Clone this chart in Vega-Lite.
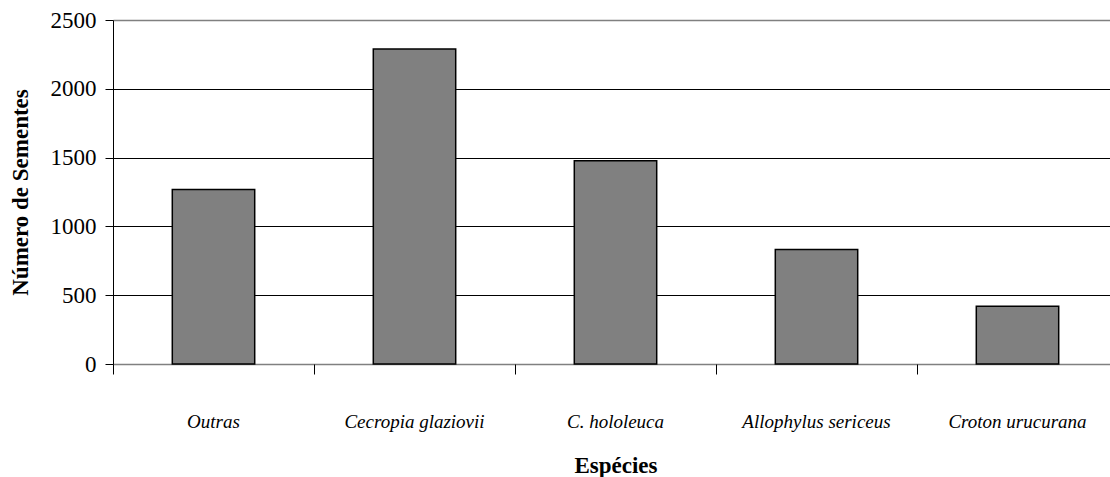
{
  "$schema": "https://vega.github.io/schema/vega-lite/v6.json",
  "width": 1005,
  "height": 344,
  "autosize": {"type": "none"},
  "padding": {"left": 113, "top": 20, "right": 0, "bottom": 113},
  "background": "white",
  "config": {"view": {"stroke": null}, "font": "Liberation Serif"},
  "data": {"values": [
    {"especie": "Outras", "sementes": 1268},
    {"especie": "Cecropia glaziovii", "sementes": 2290},
    {"especie": "C. hololeuca", "sementes": 1477},
    {"especie": "Allophylus sericeus", "sementes": 833},
    {"especie": "Croton urucurana", "sementes": 420}
  ]},
  "resolve": {"axis": {"x": "independent"}},
  "layer": [
    {
      "mark": {"type": "bar", "width": {"band": 0.41}, "fill": "#808080", "stroke": "black", "strokeWidth": 1.5},
      "encoding": {
        "x": {"field": "especie", "type": "nominal", "sort": null,
          "scale": {"paddingInner": 0, "paddingOuter": 0},
          "axis": {"orient": "bottom", "title": "Espécies", "titleFont": "Liberation Serif", "titleFontSize": 23, "titleFontWeight": "bold", "titleColor": "black", "titlePadding": 23,
            "labelFont": "Liberation Serif", "labelFontStyle": "italic", "labelFontSize": 19, "labelColor": "black", "labelPadding": 48, "labelAngle": 0,
            "ticks": false, "domainColor": "#808080", "domainWidth": 1.5, "grid": false}},
        "y": {"field": "sementes", "type": "quantitative",
          "scale": {"domain": [0, 2500], "nice": false},
          "axis": {"values": [0, 500, 1000, 1500, 2000, 2500], "format": "d", "title": "Número de Sementes", "titleFont": "Liberation Serif", "titleFontSize": 23, "titleFontWeight": "bold", "titleColor": "black", "titlePadding": 18,
            "labelFont": "Liberation Serif", "labelFontSize": 23, "labelColor": "black", "labelPadding": 9,
            "tickSize": 8, "tickColor": "black", "domainColor": "black", "domainWidth": 1,
            "grid": true, "gridColor": {"condition": {"test": "datum.value == 2500", "value": "#808080"}, "value": "black"}, "gridWidth": {"condition": {"test": "datum.value == 2500", "value": 1.5}, "value": 1}}}
      }
    },
    {
      "mark": {"type": "bar", "opacity": 0},
      "encoding": {
        "x": {"field": "especie", "type": "nominal", "sort": null,
          "axis": {"orient": "bottom", "title": null, "labels": false, "domain": false, "grid": false, "ticks": true, "tickSize": 10, "tickColor": "black", "bandPosition": 0}},
        "y": {"field": "sementes", "type": "quantitative"}
      }
    }
  ]
}
